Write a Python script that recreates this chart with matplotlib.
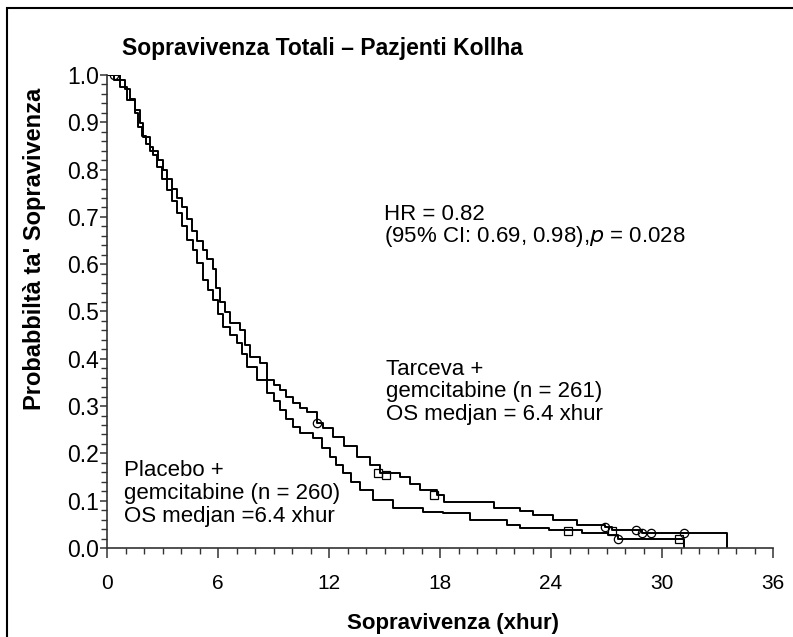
import matplotlib.pyplot as plt
import matplotlib.patches as patches
from matplotlib.ticker import MultipleLocator

plt.rcParams['font.family'] = ['Liberation Sans', 'DejaVu Sans']

# Tarceva + gemcitabine (upper curve at late times)
tarceva_t = [0, 0.7, 0.97, 1.24, 1.51, 1.68, 1.89, 2.1, 2.32, 2.76, 3.0, 3.24, 3.5, 3.78,
             4.05, 4.32, 4.6, 4.86, 5.19, 5.41, 5.73, 5.9, 6.11, 6.4, 6.65, 7.19, 7.45,
             7.73, 8.27, 8.65, 9.0, 9.35, 9.7, 10.05, 10.43, 10.81, 11.35, 11.68, 12.22,
             12.8, 13.51, 14.2, 14.76, 15.84, 16.4, 16.92, 17.84, 18.2, 20.9, 22.3, 23.0,
             24.1, 25.4, 26.9, 27.3, 28.9, 33.5]
tarceva_s = [1.0, 0.99, 0.97, 0.95, 0.92, 0.89, 0.87, 0.855, 0.84, 0.82, 0.80, 0.78, 0.76,
             0.74, 0.72, 0.695, 0.67, 0.65, 0.63, 0.61, 0.59, 0.55, 0.52, 0.50, 0.476, 0.461,
             0.43, 0.404, 0.391, 0.355, 0.345, 0.334, 0.32, 0.307, 0.296, 0.288, 0.264, 0.254,
             0.235, 0.215, 0.192, 0.175, 0.159, 0.150, 0.135, 0.123, 0.112, 0.097, 0.085,
             0.078, 0.070, 0.059, 0.049, 0.044, 0.038, 0.032, 0.0]

# Placebo + gemcitabine
placebo_t = [0, 0.4, 0.7, 1.08, 1.51, 1.78, 1.95, 2.32, 2.5, 2.7, 2.97, 3.24, 3.5, 3.78,
             4.05, 4.32, 4.65, 4.86, 5.19, 5.45, 5.73, 6.0, 6.27, 6.65, 7.03, 7.3, 7.57, 8.1,
             8.65, 9.0, 9.35, 9.7, 10.05, 10.43, 11.14, 11.6, 12.05, 12.4, 12.76, 13.2, 13.68,
             14.38, 15.46, 17.08, 18.16, 19.62, 21.62, 22.3, 23.9, 25.7, 27.1, 27.6, 31.2]
placebo_s = [1.0, 0.99, 0.975, 0.947, 0.926, 0.898, 0.869, 0.848, 0.83, 0.805, 0.78, 0.757,
             0.733, 0.709, 0.68, 0.651, 0.63, 0.603, 0.567, 0.545, 0.524, 0.495, 0.467, 0.45,
             0.433, 0.41, 0.383, 0.355, 0.328, 0.31, 0.292, 0.273, 0.256, 0.243, 0.233, 0.212,
             0.192, 0.175, 0.159, 0.14, 0.123, 0.101, 0.085, 0.076, 0.074, 0.059, 0.049, 0.042,
             0.038, 0.032, 0.027, 0.019, 0.0]

# censor marks
tarceva_circ_t = [0.4, 11.35, 26.9, 28.6, 28.9, 29.4, 31.2]
tarceva_circ_s = [1.0, 0.264, 0.044, 0.038, 0.032, 0.032, 0.032]
tarceva_sq_t = [14.65, 15.08, 17.7, 27.3]
tarceva_sq_s = [0.159, 0.154, 0.112, 0.036]
placebo_circ_t = [27.6]
placebo_circ_s = [0.019]
placebo_sq_t = [24.9, 30.9]
placebo_sq_s = [0.036, 0.019]

W, H = 793, 637
fig = plt.figure(figsize=(W / 100, H / 100), dpi=100)
ax = fig.add_axes([107 / W, 1 - 548 / H, 666 / W, 473 / H])

ax.step(tarceva_t, tarceva_s, where='post', color='black', lw=1.4)
ax.step(placebo_t, placebo_s, where='post', color='black', lw=1.4)

mk = dict(ls='none', mfc='none', mec='black', mew=0.9, ms=6)
ax.plot(tarceva_circ_t, tarceva_circ_s, marker='o', **mk)
ax.plot(tarceva_sq_t, tarceva_sq_s, marker='s', **mk)
ax.plot(placebo_circ_t, placebo_circ_s, marker='o', **mk)
ax.plot(placebo_sq_t, placebo_sq_s, marker='s', **mk)

ax.set_xlim(0, 36)
ax.set_ylim(0, 1.0)
ax.spines['top'].set_visible(False)
ax.spines['right'].set_visible(False)
for s in ['left', 'bottom']:
    ax.spines[s].set_linewidth(1.2)
    ax.spines[s].set_color('#333333')

ax.xaxis.set_major_locator(MultipleLocator(6))
ax.xaxis.set_minor_locator(MultipleLocator(1))
ax.yaxis.set_major_locator(MultipleLocator(0.1))
ax.yaxis.set_minor_locator(MultipleLocator(0.02))
ax.yaxis.set_major_formatter(plt.FormatStrFormatter('%.1f'))
ax.tick_params(axis='both', which='major', direction='out', width=1.1, color='#333333')
ax.tick_params(axis='x', which='major', length=7, pad=12, labelsize=15)
ax.tick_params(axis='y', which='major', length=5, pad=1, labelsize=16.5)
ax.tick_params(axis='both', which='minor', direction='out', length=4, width=1.0, color='#333333')

fig.text(122 / W, 1 - 48 / H, 'Sopravivenza Totali – Pazjenti Kollha', fontsize=16.5,
         fontweight='bold', va='center', ha='left')
fig.text(453 / W, 1 - 623 / H, 'Sopravivenza (xhur)', fontsize=16, fontweight='bold',
         va='center', ha='center')
fig.text(35 / W, 1 - 249 / H, "Probabbiltà ta' Sopravivenza", fontsize=17, fontweight='bold',
         va='center', ha='center', rotation=90)

ax.text(15.0, 0.728, 'HR = 0.82\n(95% CI: 0.69, 0.98),$\\it{p}$ = 0.028', fontsize=16,
        va='top', ha='left', linespacing=0.95)
ax.text(15.1, 0.40, 'Tarceva +\ngemcitabine (n = 261)\nOS medjan = 6.4 xhur', fontsize=16,
        va='top', ha='left', linespacing=1.1)
ax.text(0.9, 0.185, 'Placebo +\ngemcitabine (n = 260)\nOS medjan =6.4 xhur', fontsize=16,
        va='top', ha='left', linespacing=1.1)

fig.add_artist(patches.Rectangle((7 / W, -0.1), 1.0, 1 - 8 / H + 0.1, transform=fig.transFigure,
                                 fill=False, lw=1.5, ec='black'))

fig.savefig('out.png', dpi=100)
